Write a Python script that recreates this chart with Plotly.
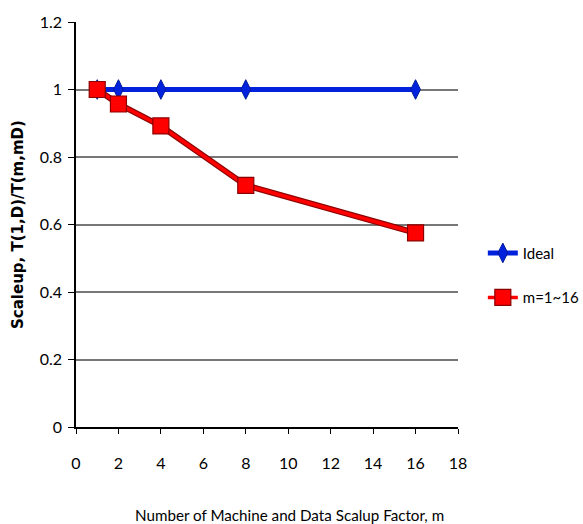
import plotly.graph_objects as go

# Scale-up measurements
m_ideal = [1, 2, 4, 8, 16]
ideal = [1, 1, 1, 1, 1]
m_meas = [1, 2, 4, 8, 16]
scaleup = [1.0, 0.957, 0.892, 0.716, 0.575]

x_ticks = list(range(0, 20, 2))
y_ticks = [0, 0.2, 0.4, 0.6, 0.8, 1, 1.2]
y_tick_text = ["0", "0.2", "0.4", "0.6", "0.8", "1", "1.2"]

font_family = "Lato, Open Sans, sans-serif"

fig = go.Figure()

fig.add_trace(go.Scatter(
    x=m_ideal, y=ideal, mode="lines+markers", name="Ideal", legendgroup="a",
    line=dict(color="#0022dd", width=5),
    marker=dict(symbol="diamond-tall", size=14, color="#0022dd",
                line=dict(color="#001a99", width=1)),
))

# dark edge under the red series line
fig.add_trace(go.Scatter(
    x=m_meas, y=scaleup, mode="lines", showlegend=False, hoverinfo="skip",
    legendgroup="b",
    line=dict(color="#8b0000", width=6),
))
fig.add_trace(go.Scatter(
    x=m_meas, y=scaleup, mode="lines+markers", name="m=1~16", legendgroup="b",
    line=dict(color="#ff0000", width=3.5),
    marker=dict(symbol="square", size=16, color="#ff0000",
                line=dict(color="#8b0000", width=1.2)),
))

fig.update_layout(
    width=583, height=524,
    margin=dict(l=76, r=125, t=22, b=97, autoexpand=False),
    paper_bgcolor="white", plot_bgcolor="white",
    font=dict(family=font_family, size=16, color="black"),
    legend=dict(x=1.065, y=0.47, xanchor="left", yanchor="top",
                font=dict(size=15), tracegroupgap=22, itemwidth=30),
    showlegend=True,
    annotations=[
        dict(text="Number of Machine and Data Scalup Factor, m",
             xref="paper", yref="paper", x=(289 - 76) / 382, y=-88 / 405,
             xanchor="center", yanchor="middle", showarrow=False,
             font=dict(size=15.2)),
        dict(text="<b>Scaleup, T(1,D)/T(m,mD)</b>",
             xref="paper", yref="paper", x=(18 - 76) / 382, y=(427 - 225) / 405,
             xanchor="center", yanchor="middle", showarrow=False, textangle=-90,
             font=dict(size=15, family="DejaVu Sans, sans-serif")),
    ],
)

fig.update_xaxes(
    range=[0, 18], tickvals=x_ticks, showgrid=False, zeroline=False,
    showline=True, linecolor="black", linewidth=1.5,
    ticks="outside", ticklen=5, tickcolor="black", ticklabelstandoff=16,
)
fig.update_yaxes(
    range=[0, 1.2], tickvals=y_ticks, ticktext=y_tick_text,
    showgrid=True, gridcolor="#777777", gridwidth=1.5, zeroline=False,
    showline=True, linecolor="black", linewidth=1.5,
    ticks="outside", ticklen=6, tickcolor="black", ticklabelstandoff=3,
)

fig.write_html("out.html")
